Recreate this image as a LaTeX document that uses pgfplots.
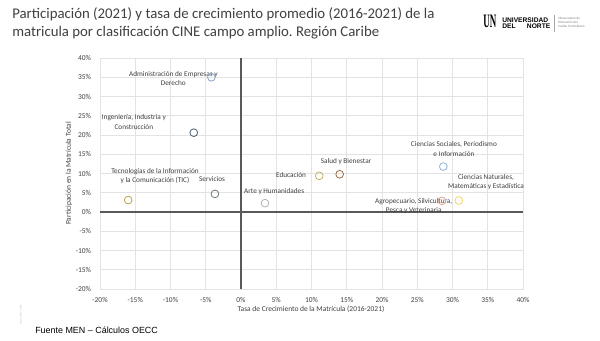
\documentclass[border=0pt]{standalone}
\usepackage{fontspec}
\setmainfont{Carlito}
\newfontfamily\arial{Liberation Sans}
\newfontfamily\serifb{Liberation Serif}
\usepackage{pgfplots}
\pgfplotsset{compat=1.18}
\frenchspacing
\definecolor{titlec}{HTML}{404040}
\definecolor{txt}{HTML}{404040}
\definecolor{cAdm}{HTML}{8DA3C4}
\definecolor{cIng}{HTML}{4F5E73}
\definecolor{cTic}{HTML}{B8A24A}
\definecolor{cSer}{HTML}{6F7B72}
\definecolor{cArt}{HTML}{B3B3B3}
\definecolor{cEdu}{HTML}{C2B466}
\definecolor{cSal}{HTML}{9A6B45}
\definecolor{cCso}{HTML}{94B2D8}
\definecolor{cAgr}{HTML}{E3A592}
\definecolor{cCna}{HTML}{F2D46A}
\begin{document}
\begin{tikzpicture}[x=0.75pt,y=0.75pt]
\path[fill=white] (0,0) rectangle (600,340);
% title
\node[anchor=west, text=titlec, inner sep=0pt, font=\fontsize{11.1}{13}\selectfont] at (12,326) {Participación (2021) y tasa de crecimiento promedio (2016-2021) de la};
\node[anchor=west, text=titlec, inner sep=0pt, font=\fontsize{11.1}{13}\selectfont] at (12,307) {matricula por clasificación CINE campo amplio. Región Caribe};
% logo
\node[anchor=west, inner sep=0pt, font=\serifb\fontsize{7.5}{7.5}\selectfont\bfseries] at (483,318.5) {\scalebox{0.9}[1.9]{UN}};
\node[anchor=west, inner sep=0pt, font=\arial\fontsize{5}{4.7}\selectfont\bfseries] at (502,316.5) {\parbox{36pt}{UNIVERSIDAD\\[-0.3pt]DEL\hfill NORTE}};
\draw[gray!70, line width=0.3pt] (554,308) -- (554,325);
\node[anchor=west, inner sep=0pt, text=gray, font=\arial\fontsize{2.3}{2.8}\selectfont] at (558,317.5) {\parbox{30pt}{Observatorio de\\Educación del\\Caribe Colombiano}};
% footer
\node[anchor=west, inner sep=0pt, font=\arial\fontsize{6.7}{8}\selectfont] at (35,10) {Fuente MEN – Cálculos OECC};
\node[rotate=90, inner sep=0pt, text=gray!60, font=\arial\fontsize{1.5}{2}\selectfont] at (21,25) {Fuente: MEN - SNIES};
% axis labels
\node[rotate=90, text=txt, inner sep=0pt, font=\fontsize{5.6}{6}\selectfont] at (69,166.5) {Participación en la Matrícula Total};
\node[text=txt, inner sep=0pt, font=\fontsize{5.6}{6}\selectfont] at (311,31) {Tasa de Crecimiento de la Matrícula (2016-2021)};
\begin{axis}[
  at={(75pt,38.25pt)}, anchor=south west, scale only axis,
  width=317.25pt, height=173.25pt,
  xmin=-20, xmax=40, ymin=-20, ymax=40,
  xtick={-20,-15,...,40}, ytick={-20,-15,...,40},
  grid=major, grid style={gray!22, line width=0.4pt},
  axis line style={gray!22, line width=0.4pt},
  major tick length=0pt,
  /pgf/number format/assume math mode=true,
  xticklabel={\pgfmathprintnumber{\tick}\%},
  yticklabel={\pgfmathprintnumber{\tick}\%},
  ticklabel style={font=\fontsize{5.6}{6}\selectfont, text=txt},
  xticklabel style={yshift=-3pt},
  yticklabel style={xshift=-3.2pt},
  clip=false,
]
\draw[black!65, line width=0.8pt] (axis cs:0,-20) -- (axis cs:0,40);
\draw[black!65, line width=0.8pt] (axis cs:-20,0) -- (axis cs:40,0);
\pgfplotsset{every axis plot/.append style={only marks, mark=o, mark size=2.9pt, line width=0.6pt}}
\addplot[cAdm] coordinates {(-4.2,35.0)};
\addplot[cIng] coordinates {(-6.7,20.6)};
\addplot[cTic] coordinates {(-16.0,3.1)};
\addplot[cSer] coordinates {(-3.7,4.7)};
\addplot[cArt] coordinates {(3.4,2.3)};
\addplot[cEdu] coordinates {(11.1,9.4)};
\addplot[cSal] coordinates {(14.0,9.8)};
\addplot[cCso] coordinates {(28.7,11.8)};
\addplot[cAgr] coordinates {(28.5,2.9)};
\addplot[cCna] coordinates {(30.9,3.0)};
\begin{scope}[every node/.style={text=txt, align=center, inner sep=0pt, font=\fontsize{5.45}{7}\selectfont}]
\node at (axis cs:-9.6,34.6) {Administración de Empresas y\\Derecho};
\node at (axis cs:-15.2,23.4) {Ingeniería, Industria y\\Construcción};
\node at (axis cs:-12.2,9.35) {Tecnologías de la Información\\y la Comunicación (TIC)};
\node at (axis cs:-4.1,8.6) {Servicios};
\node at (axis cs:4.7,5.2) {Arte y Humanidades};
\node at (axis cs:7.1,9.6) {Educación};
\node at (axis cs:14.9,13.2) {Salud y Bienestar};
\node at (axis cs:30.2,16.4) {Ciencias Sociales, Periodismo\\e Información};
\node at (axis cs:34.75,7.8) {Ciencias Naturales,\\Matemáticas y Estadística};
\node at (axis cs:24.5,1.6) {Agropecuario, Silvicultura,\\Pesca y Veterinaria};
\end{scope}
\end{axis}
\end{tikzpicture}
\end{document}
